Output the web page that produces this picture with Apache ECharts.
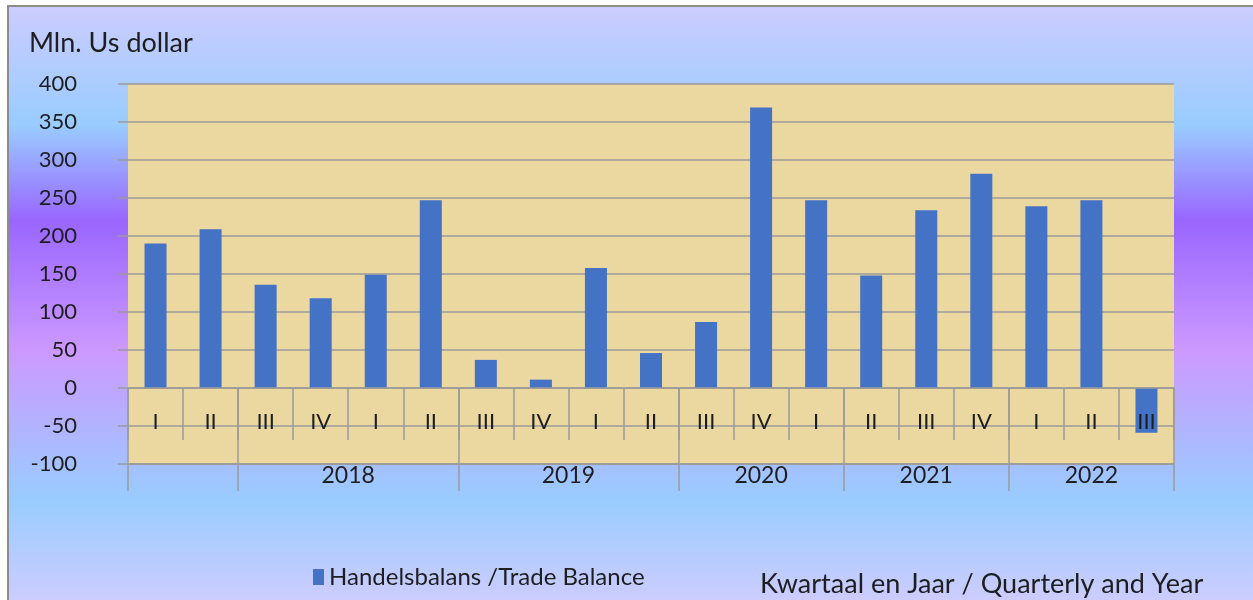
<!DOCTYPE html>
<html>
<head>
<meta charset="utf-8">
<script src="https://cdn.jsdelivr.net/npm/echarts@6/dist/echarts.min.js"></script>
<style>
  html, body { margin: 0; padding: 0; background: #fff; }
  #frame {
    position: absolute; left: 7px; top: 5px; width: 1246px; height: 595px;
    border-left: 2px solid #8c8c8c; border-top: 2px solid #8c8c8c;
    box-sizing: border-box;
    background: linear-gradient(to bottom, #ccccff 0%, #99ccff 20%, #9966ff 36%, #cc99ff 58%, #99ccff 83%, #ccccff 100%);
  }
  #chart { position: absolute; left: 0; top: 0; width: 1253px; height: 600px; }
</style>
</head>
<body>
<div id="frame"></div>
<div id="chart"></div>
<script>
// quarters along the axis, one bar each
const quarters = ['I', 'II', 'III', 'IV', 'I', 'II', 'III', 'IV', 'I', 'II', 'III', 'IV', 'I', 'II', 'III', 'IV', 'I', 'II', 'III']
// trade balance, mln US dollar
const tradeBalance = [190, 209, 136, 118, 149, 247, 37, 11, 158, 46, 87, 369, 247, 148, 234, 282, 239, 247, -59]
// year groups: label and index of the first quarter in the group
const years = ['2018', '2019', '2020', '2021', '2022']
const yearFirstIndex = [2, 6, 10, 13, 16]

const FONT = 'Lato'
const TEXT = '#1e1e1e'
const LINE = '#9b9b9b'

// group boundaries and centers on the lower (year) axis
const boundaries = [0].concat(yearFirstIndex, [quarters.length])
const centers = yearFirstIndex.map((s, i) => {
    const e = i < yearFirstIndex.length - 1 ? yearFirstIndex[i + 1] : quarters.length
    return (s + e) / 2
})

const chart = echarts.init(document.getElementById('chart'))

chart.setOption({
    backgroundColor: 'transparent',
    textStyle: { fontFamily: FONT },
    title: [
        {
            text: 'Mln. Us dollar',
            left: 24,
            top: 25,
            textStyle: { fontFamily: FONT, fontSize: 27, fontWeight: 'normal', color: TEXT }
        },
        {
            text: 'Kwartaal en Jaar / Quarterly and Year',
            left: 755,
            top: 566,
            textStyle: { fontFamily: FONT, fontSize: 27, fontWeight: 'normal', color: TEXT }
        }
    ],
    legend: {
        left: 308,
        top: 560,
        itemWidth: 11,
        itemHeight: 16,
        itemGap: 10,
        icon: 'rect',
        textStyle: { fontFamily: FONT, fontSize: 24, color: TEXT },
        data: ['Handelsbalans /Trade Balance']
    },
    grid: [
        {
            left: 128, top: 84, width: 1046, height: 380,
            show: true, backgroundColor: '#ebd7a0', borderWidth: 0
        },
        {
            left: 128, top: 388, width: 1046, height: 76,
            show: false
        }
    ],
    xAxis: [
        {
            // bars
            type: 'category',
            gridIndex: 0,
            data: quarters,
            show: false
        },
        {
            // quarter labels, hanging below the zero line, drawn over the bars
            type: 'category',
            gridIndex: 1,
            data: quarters,
            position: 'top',
            z: 5,
            axisLine: { show: true, onZero: false, lineStyle: { color: LINE, width: 1.5 } },
            axisTick: { show: true, inside: true, interval: 0, length: 52, lineStyle: { color: LINE, width: 1.5 } },
            axisLabel: { inside: true, interval: 0, margin: 23, fontSize: 22, color: TEXT, fontFamily: FONT }
        },
        {
            // year groups
            type: 'value',
            gridIndex: 1,
            min: 0,
            max: quarters.length,
            position: 'bottom',
            axisLine: { show: true, onZero: false, lineStyle: { color: LINE, width: 1.5 } },
            axisTick: { show: true, customValues: boundaries, length: 27, lineStyle: { color: LINE, width: 1.5 } },
            axisLabel: {
                customValues: centers,
                margin: 0,
                fontSize: 23,
                color: TEXT,
                fontFamily: FONT,
                formatter: v => years[centers.indexOf(v)] || ''
            },
            splitLine: { show: true, lineStyle: { color: LINE, width: 1.5 } }
        }
    ],
    yAxis: [
        {
            type: 'value',
            gridIndex: 0,
            min: -100,
            max: 400,
            interval: 50,
            axisLine: { show: false },
            axisTick: { show: true, length: 10, lineStyle: { color: LINE, width: 1.5 } },
            axisLabel: { margin: 51, fontSize: 22, color: TEXT, fontFamily: FONT },
            splitLine: { show: true, lineStyle: { color: LINE, width: 1.5 } }
        },
        {
            type: 'value',
            gridIndex: 1,
            min: 0,
            max: 1,
            show: false
        }
    ],
    series: [
        {
            name: 'Handelsbalans /Trade Balance',
            type: 'bar',
            xAxisIndex: 0,
            yAxisIndex: 0,
            barWidth: 22,
            itemStyle: { color: '#4472c4' },
            data: tradeBalance
        }
    ]
})
</script>
</body>
</html>
